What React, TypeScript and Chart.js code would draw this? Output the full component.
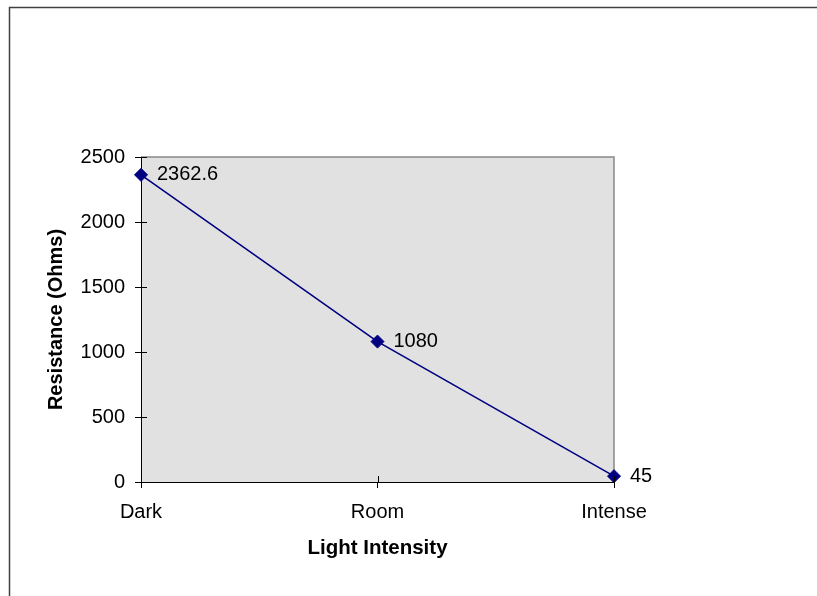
import React, { useEffect, useRef } from "react";
import { Chart, registerables } from "chart.js";

Chart.register(...registerables);

const categories = ["Dark", "Room", "Intense"];
const resistance = [2362.6, 1080, 45];
const yTicks = { min: 0, max: 2500, step: 500 };
const xTitle = "Light Intensity";
const yTitle = "Resistance (Ohms)";

const FONT = "'Liberation Sans', Arial, Helvetica, sans-serif";

// Gray plot background with gray top/right edges, and the thin outer frame
const backdropPlugin = {
  id: "backdrop",
  beforeDraw(chart: any) {
    const { ctx, chartArea: a, width, height } = chart;
    ctx.save();
    ctx.fillStyle = "#ffffff";
    ctx.fillRect(0, 0, width, height);
    ctx.strokeStyle = "#404040";
    ctx.lineWidth = 1.5;
    ctx.beginPath();
    ctx.moveTo(9.5, height);
    ctx.lineTo(9.5, 7.5);
    ctx.lineTo(width, 7.5);
    ctx.stroke();
    ctx.fillStyle = "#e1e1e1";
    ctx.fillRect(a.left, a.top, a.right - a.left, a.bottom - a.top);
    ctx.strokeStyle = "#888888";
    ctx.lineWidth = 1.5;
    ctx.beginPath();
    ctx.moveTo(a.left, a.top);
    ctx.lineTo(a.right, a.top);
    ctx.lineTo(a.right, a.bottom);
    ctx.stroke();
    ctx.restore();
  },
};

// Inner halves of the crossing tick marks, plus value labels beside each point
const overlayPlugin = {
  id: "overlay",
  afterDatasetsDraw(chart: any) {
    const { ctx, chartArea: a, scales } = chart;
    ctx.save();
    ctx.strokeStyle = "#000000";
    ctx.lineWidth = 1;
    ctx.beginPath();
    scales.y.ticks.forEach((_: any, i: number) => {
      const y = Math.round(scales.y.getPixelForTick(i)) + 0.5;
      ctx.moveTo(a.left, y);
      ctx.lineTo(a.left + 6, y);
    });
    scales.x.ticks.forEach((_: any, i: number) => {
      const x = Math.round(scales.x.getPixelForTick(i)) + 0.5;
      ctx.moveTo(x, a.bottom);
      ctx.lineTo(x, a.bottom - 6);
    });
    ctx.stroke();

    const meta = chart.getDatasetMeta(0);
    ctx.fillStyle = "#000000";
    ctx.font = `20px ${FONT}`;
    ctx.textAlign = "left";
    ctx.textBaseline = "middle";
    meta.data.forEach((pt: any, i: number) => {
      ctx.fillText(String(resistance[i]), pt.x + 16, pt.y);
    });
    ctx.restore();
  },
};

export default function App() {
  const ref = useRef<HTMLCanvasElement>(null);

  useEffect(() => {
    if (!ref.current) return;
    const chart = new Chart(ref.current, {
      type: "line",
      data: {
        labels: categories,
        datasets: [
          {
            data: resistance,
            borderColor: "#000080",
            borderWidth: 1.6,
            backgroundColor: "#000080",
            pointStyle: "rectRot",
            pointRadius: 6.5,
            pointBorderWidth: 1,
            pointBorderColor: "#000080",
            pointBackgroundColor: "#000080",
            tension: 0,
            fill: false,
          },
        ],
      },
      options: {
        responsive: false,
        animation: false,
        devicePixelRatio: 1,
        layout: { padding: { top: 157, right: 203, left: 0, bottom: 0 } },
        plugins: {
          legend: { display: false },
          tooltip: { enabled: false },
          title: { display: false },
        },
        scales: {
          x: {
            type: "category",
            offset: false,
            afterFit: (s: any) => {
              s.height = 114;
            },
            grid: {
              offset: false,
              drawOnChartArea: false,
              drawTicks: true,
              tickLength: 6,
              tickColor: "#000000",
              color: "#000000",
            },
            border: { display: true, color: "#000000", width: 1 },
            ticks: {
              color: "#000000",
              padding: 12,
              maxRotation: 0,
              autoSkip: false,
              font: { family: FONT, size: 20 },
            },
            title: {
              display: true,
              text: xTitle,
              color: "#000000",
              font: { family: FONT, size: 20.5, weight: "bold" },
              padding: { top: 0, bottom: 35 },
            },
          },
          y: {
            min: yTicks.min,
            max: yTicks.max,
            afterFit: (s: any) => {
              s.width = 141;
            },
            grid: {
              drawOnChartArea: false,
              drawTicks: true,
              tickLength: 6,
              tickColor: "#000000",
              color: "#000000",
            },
            border: { display: true, color: "#000000", width: 1 },
            ticks: {
              stepSize: yTicks.step,
              color: "#000000",
              padding: 10,
              font: { family: FONT, size: 20 },
              callback: (v: any) => String(v),
            },
            title: {
              display: true,
              text: yTitle,
              color: "#000000",
              font: { family: FONT, size: 20, weight: "bold" },
              padding: { top: 44, bottom: 0 },
            },
          },
        },
      },
      plugins: [backdropPlugin, overlayPlugin],
    });
    return () => chart.destroy();
  }, []);

  return (
    <div
      style={{
        position: "fixed",
        left: 0,
        top: 0,
        width: 817,
        height: 596,
        overflow: "hidden",
        background: "#ffffff",
      }}
    >
      <canvas ref={ref} width={817} height={596} style={{ display: "block" }} />
    </div>
  );
}
